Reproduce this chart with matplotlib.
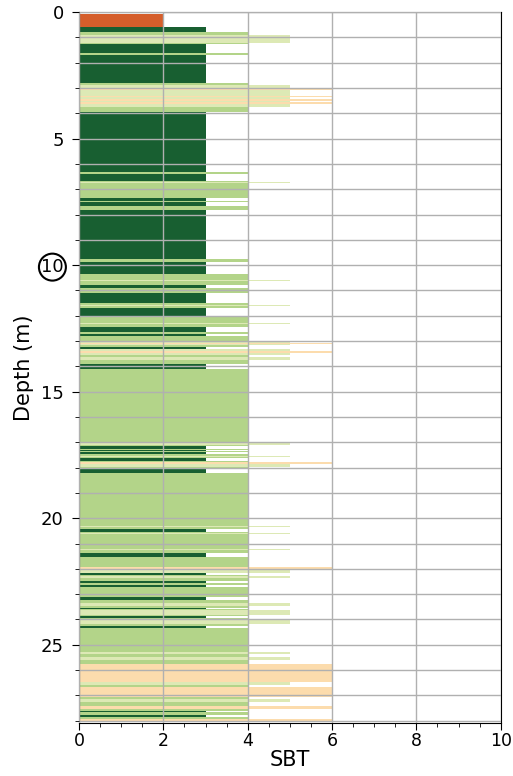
import numpy as np
import matplotlib.pyplot as plt
from matplotlib.ticker import MultipleLocator

layer_top = [0.08, 0.61, 0.79, 0.91, 1.24, 1.28, 1.61, 1.71, 2.82, 2.89,
             3.04, 3.10, 3.32, 3.37, 3.45, 3.50, 3.55, 3.62, 3.74, 3.94,
             6.31, 6.38, 6.68, 6.70, 6.74, 6.98, 7.02, 7.34, 7.46, 7.52,
             7.65, 7.83, 9.74, 9.87, 10.36, 10.58, 10.62, 10.79, 10.90, 10.98,
             11.04, 11.09, 11.49, 11.59, 11.63, 11.71, 12.04, 12.29, 12.33, 12.46,
             12.64, 12.74, 12.81, 12.99, 13.07, 13.11, 13.16, 13.23, 13.32, 13.40,
             13.47, 13.55, 13.62, 13.76, 13.91, 14.10, 17.02, 17.10, 17.15, 17.25,
             17.29, 17.34, 17.39, 17.47, 17.53, 17.58, 17.64, 17.73, 17.79, 17.87,
             17.96, 18.04, 18.23, 20.30, 20.36, 20.44, 20.55, 20.60, 20.64, 21.22,
             21.26, 21.37, 21.53, 21.92, 22.05, 22.17, 22.25, 22.30, 22.35, 22.47,
             22.54, 22.63, 22.70, 22.98, 23.03, 23.12, 23.25, 23.35, 23.48, 23.54,
             23.60, 23.64, 23.83, 23.87, 23.93, 23.97, 24.19, 24.26, 24.33, 25.30,
             25.35, 25.50, 25.61, 25.74, 26.47, 26.60, 26.68, 27.06, 27.14, 27.26,
             27.41, 27.54, 27.61, 27.67, 27.79, 27.85, 27.92]
layer_bottom = layer_top[1:] + [28.05]
layer_sbt = [2, 3, 4, 5, 4, 3, 4, 3, 4, 5,
             6, 5, 6, 5, 6, 5, 6, 5, 4, 3,
             4, 3, 4, 5, 4, 5, 4, 3, 4, 3,
             4, 3, 4, 3, 4, 5, 4, 3, 4, 5,
             4, 3, 4, 5, 4, 3, 4, 5, 4, 3,
             4, 3, 4, 5, 6, 5, 4, 3, 5, 6,
             5, 4, 5, 4, 3, 4, 5, 4, 3, 4,
             3, 4, 3, 4, 5, 4, 3, 4, 6, 5,
             4, 3, 4, 5, 4, 3, 4, 5, 4, 5,
             4, 3, 4, 6, 5, 3, 4, 5, 4, 3,
             4, 3, 4, 5, 4, 3, 4, 5, 4, 3,
             4, 5, 4, 3, 4, 5, 4, 3, 4, 5,
             4, 5, 4, 6, 5, 4, 6, 4, 5, 4,
             6, 4, 3, 4, 3, 4, 6]

sbt_colors = {2: '#d55e2b', 3: '#185f31', 4: '#b3d489', 5: '#dde9b5', 6: '#fcdcad'}

top = np.array(layer_top)
thick = np.array(layer_bottom) - top
colors = [sbt_colors[s] for s in layer_sbt]

fig = plt.figure(figsize=(5.13, 7.76), dpi=100)
ax = fig.add_axes([0.154, 0.068, 0.822, 0.9165])

ax.barh(top + thick / 2, layer_sbt, height=thick, left=0, color=colors,
        edgecolor='none', zorder=1)

ax.set_xlim(0, 10)
ax.set_ylim(28.1, 0)
ax.xaxis.set_major_locator(MultipleLocator(2))
ax.xaxis.set_minor_locator(MultipleLocator(0.5))
ax.yaxis.set_major_locator(MultipleLocator(5))
ax.yaxis.set_minor_locator(MultipleLocator(1))
ax.grid(True, axis='x', which='major', color='#b0b0b0', lw=1, zorder=2)
ax.grid(True, axis='y', which='both', color='#b0b0b0', lw=1, zorder=2)
ax.set_axisbelow(False)
ax.tick_params(which='major', length=5, labelsize=13)
ax.tick_params(which='minor', length=3)
ax.tick_params(axis='x', which='major', pad=1.5, labelsize=12.5)
ax.tick_params(axis='y', which='major', pad=6)

ax.set_xlabel('SBT', fontsize=15, labelpad=0)
ax.set_ylabel('Depth (m)', fontsize=15, labelpad=5)

fig.canvas.draw()
for lab in ax.get_yticklabels():
    if lab.get_text() == '10':
        lab.set_bbox(dict(boxstyle='circle,pad=0.12', fc='none', ec='black', lw=1.5))

fig.savefig('out.png', dpi=100)
